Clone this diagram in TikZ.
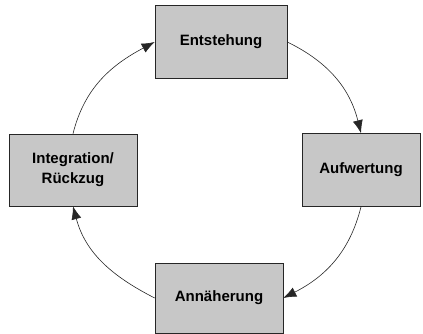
\documentclass[tikz,border=0pt]{standalone}
\usepackage{fontspec}
\setmainfont{Liberation Sans}
\usepackage{tikz}
\usetikzlibrary{arrows.meta}
\usepackage{xcolor}
\definecolor{boxgray}{gray}{0.78}
\tikzset{
    phase-box/.style = {draw=black!85, fill=boxgray, semithick, rectangle, align=center, font=\fontsize{15}{20}\selectfont\bfseries},
    phase-arrow/.style = {-{Latex[length=13pt, width=10pt]}, semithick, black!85},
}

\begin{document}
\begin{tikzpicture}[x=1pt, y=-1pt]
\useasboundingbox (0,0) rectangle (423,334);
\node [phase-box, minimum width=132pt, minimum height=73pt] (entstehung) at (221,42) {Entstehung};
\node [phase-box, minimum width=118pt, minimum height=73pt] (aufwertung) at (361,170) {Aufwertung};
\node [phase-box, minimum width=128pt, minimum height=70pt] (annaeherung) at (219,298) {Annäherung};
\node [phase-box, minimum width=128pt, minimum height=72pt] (integration) at (73,170) {Integration/\\Rückzug};
\draw [phase-arrow] (entstehung.east) to[out=-26, in=104] (aufwertung.north);
\draw [phase-arrow] (aufwertung.south) to[out=-104, in=27] (annaeherung.east);
\draw [phase-arrow] (annaeherung.west) to[out=153, in=-75] (integration.south);
\draw [phase-arrow] (integration.north) to[out=76, in=208] (entstehung.west);
\end{tikzpicture}
\end{document}
